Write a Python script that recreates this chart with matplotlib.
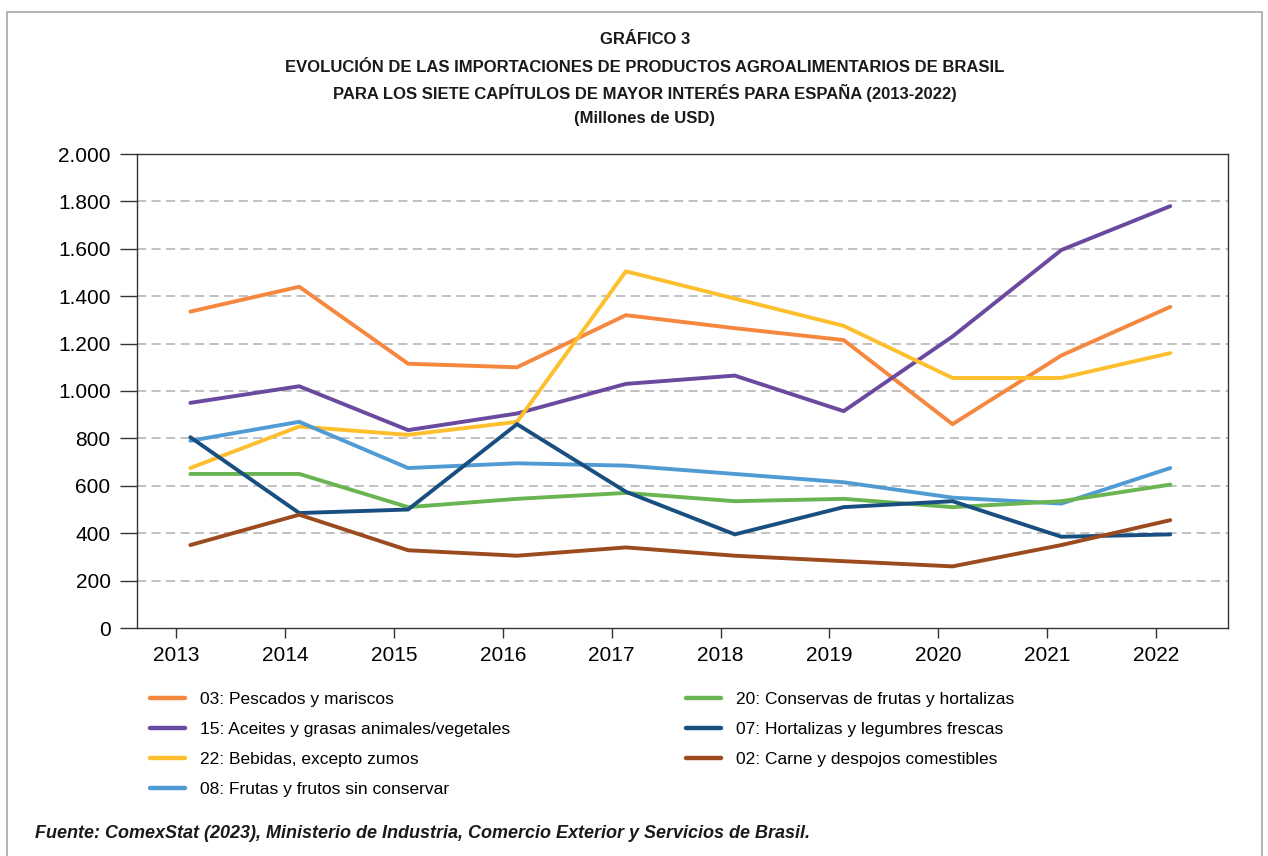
import matplotlib
matplotlib.use("Agg")
import matplotlib.pyplot as plt
import numpy as np
from matplotlib.patches import Rectangle

years = ["2013", "2014", "2015", "2016", "2017", "2018", "2019", "2020", "2021", "2022"]

pescados = [1335, 1440, 1115, 1100, 1320, 1265, 1215, 860, 1150, 1355]
aceites = [950, 1020, 835, 905, 1030, 1065, 915, 1230, 1595, 1780]
bebidas = [675, 850, 815, 870, 1505, 1390, 1275, 1055, 1055, 1160]
frutas = [790, 870, 675, 695, 685, 650, 615, 550, 525, 675]
conservas = [650, 650, 510, 545, 570, 535, 545, 510, 535, 605]
hortalizas = [805, 485, 500, 860, 575, 395, 510, 535, 385, 395]
carne = [350, 478, 328, 305, 340, 305, 282, 260, 350, 455]

labels = [
    "03: Pescados y mariscos",
    "15: Aceites y grasas animales/vegetales",
    "22: Bebidas, excepto zumos",
    "08: Frutas y frutos sin conservar",
    "20: Conservas de frutas y hortalizas",
    "07: Hortalizas y legumbres frescas",
    "02: Carne y despojos comestibles",
]
series = [pescados, aceites, bebidas, frutas, conservas, hortalizas, carne]
colors = ["#F5873E", "#6A4A9E", "#FDBF2D", "#519BD4", "#6AB552", "#184F80", "#9B4B1E"]

plt.rcParams['font.family'] = ['Liberation Sans', 'DejaVu Sans']

fig = plt.figure(figsize=(12.68, 8.56), dpi=100)

# outer border
fig.add_artist(Rectangle((7 / 1268, -0.05), (1262 - 7) / 1268, 1.05 - 12 / 856,
                         transform=fig.transFigure, fill=False,
                         edgecolor="#a8a8a8", linewidth=1.2))

ax = fig.add_axes([137 / 1268, 1 - 628 / 856, (1228 - 137) / 1268, (628 - 154) / 856])

x = np.arange(len(years))
offset = 0.13
lines = []
for s, c, l in zip(series, colors, labels):
    ln, = ax.plot(x + offset, s, color=c, linewidth=2.8, label=l,
                  solid_capstyle='round', solid_joinstyle='miter')
    lines.append(ln)

ax.set_xlim(-0.36, 9.66)
ax.set_ylim(0, 2000)
ax.set_xticks(x)
ax.set_xticklabels(years, fontsize=15)
yt = np.arange(0, 2001, 200)
ax.set_yticks(yt)
ax.set_yticklabels([f"{v:,}".replace(",", ".") for v in yt], fontsize=15)
ax.tick_params(axis='y', length=12, width=1, color="#333333", pad=7)
ax.tick_params(axis='x', length=7, width=1, color="#333333", pad=6)
for g in range(200, 2000, 200):
    ax.axhline(g, color="#b0b0b0", linestyle=(0, (6, 3.5)), linewidth=1.1, zorder=0)
for sp in ax.spines.values():
    sp.set_color("#333333")
    sp.set_linewidth(1.0)

title_font = ['Liberation Sans Narrow', 'Liberation Sans', 'DejaVu Sans']
title_lines = [
    ("GRÁFICO 3", 39),
    ("EVOLUCIÓN DE LAS IMPORTACIONES DE PRODUCTOS AGROALIMENTARIOS DE BRASIL", 67),
    ("PARA LOS SIETE CAPÍTULOS DE MAYOR INTERÉS PARA ESPAÑA (2013-2022)", 93),
    ("(Millones de USD)", 118),
]
for t, yy in title_lines:
    fig.text(645 / 1268, 1 - yy / 856, t, ha='center', va='center',
             fontsize=12, fontweight='bold', family=title_font, color="#1a1a1a")

leg_kw = dict(frameon=False, loc='upper left', fontsize=12.5, handlelength=2.0,
              handletextpad=0.9, labelspacing=0.86, borderpad=0, borderaxespad=0)
leg1 = fig.legend(lines[:4], labels[:4], bbox_to_anchor=(150 / 1268, 1 - 692 / 856), **leg_kw)
leg2 = fig.legend(lines[4:], labels[4:], bbox_to_anchor=(686 / 1268, 1 - 692 / 856), **leg_kw)
for leg in (leg1, leg2):
    for h in leg.legend_handles:
        h.set_linewidth(3.2)

fig.text(35 / 1268, 1 - 833 / 856,
         "Fuente: ComexStat (2023), Ministerio de Industria, Comercio Exterior y Servicios de Brasil.",
         ha='left', va='center', fontsize=13, fontweight='bold', fontstyle='italic',
         family=title_font, color="#1a1a1a")

fig.savefig("out.png", dpi=100)
